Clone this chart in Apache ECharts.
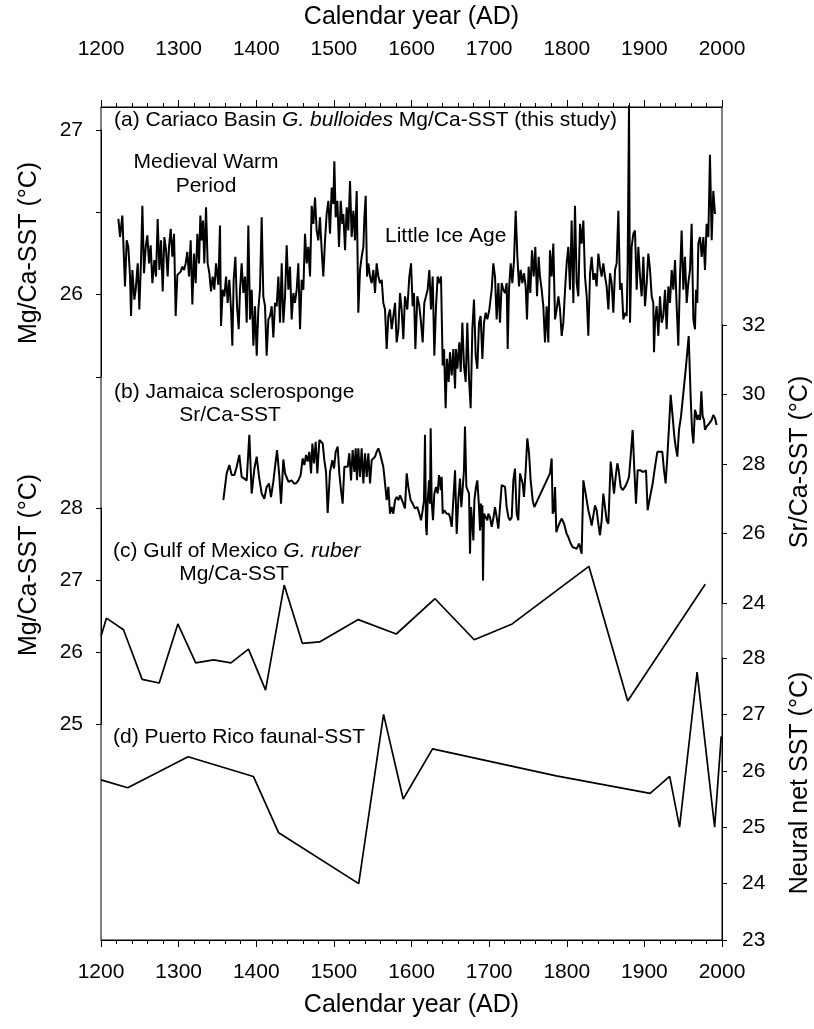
<!DOCTYPE html>
<html><head><meta charset="utf-8">
<script src="https://cdn.jsdelivr.net/npm/echarts@6/dist/echarts.min.js"></script>
<style>html,body{margin:0;padding:0;background:#fff}#c{width:814px;height:1029px}</style>
</head><body><div id="c"></div>
<script>
// (a) Cariaco Basin G. bulloides Mg/Ca-SST
const aYears=[1222.4,1224.5,1227.5,1230.9,1233.1,1235.2,1237.4,1238.7,1240.4,1243.0,1244.7,1247.3,1249.4,1251.6,1253.3,1255.4,1257.6,1259.7,1261.9,1264.0,1266.2,1268.7,1270.9,1273.0,1275.2,1277.3,1279.5,1281.6,1283.8,1285.9,1287.6,1289.8,1291.9,1294.1,1296.2,1298.4,1300.5,1302.7,1304.8,1307.0,1309.1,1311.2,1313.4,1315.5,1317.7,1319.8,1322.0,1324.1,1326.3,1328.0,1329.7,1331.4,1333.1,1335.3,1337.4,1339.6,1341.7,1343.9,1346.0,1348.2,1351.2,1353.3,1354.6,1356.8,1358.9,1361.1,1363.2,1365.3,1367.5,1369.2,1370.9,1373.1,1375.2,1377.4,1379.1,1381.2,1383.4,1385.5,1387.7,1389.8,1392.0,1394.1,1396.3,1398.4,1400.6,1402.7,1404.8,1407.0,1409.1,1411.3,1413.4,1415.6,1417.7,1419.9,1422.0,1424.2,1426.3,1428.5,1430.6,1432.8,1434.9,1437.1,1439.2,1441.4,1443.5,1445.6,1447.8,1449.9,1452.1,1454.2,1456.4,1458.5,1460.7,1462.8,1465.0,1467.1,1469.3,1471.4,1473.6,1475.7,1477.8,1480.0,1482.1,1484.3,1486.4,1488.6,1490.7,1492.9,1495.0,1497.2,1499.3,1500.6,1502.3,1504.5,1506.6,1508.8,1510.9,1512.2,1514.4,1516.5,1518.6,1520.8,1522.9,1525.1,1527.2,1529.4,1531.5,1533.7,1535.8,1538.0,1539.3,1541.0,1542.7,1544.4,1546.6,1548.7,1550.9,1553.0,1555.1,1557.3,1559.4,1561.6,1563.7,1565.9,1568.0,1570.2,1572.3,1574.5,1576.6,1578.8,1580.9,1583.1,
1585.2,1587.3,1589.5,1591.6,1594.6,1597.2,1599.4,1601.5,1603.2,1605.0,1607.5,1610.1,1612.3,1614.4,1616.5,1618.7,1620.8,1623.0,1625.1,1627.3,1629.4,1631.6,1633.7,1635.9,1638.0,1640.2,1641.9,1644.0,1645.7,1647.9,1649.6,1651.8,1653.9,1656.1,1657.3,1659.1,1661.6,1663.4,1665.5,1667.6,1669.8,1671.9,1674.1,1676.2,1678.4,1680.5,1682.7,1684.8,1687.0,1689.1,1691.3,1693.4,1695.6,1697.7,1700.3,1703.3,1705.4,1707.6,1709.7,1711.9,1714.0,1716.2,1718.3,1720.5,1722.6,1723.9,1725.6,1727.8,1729.9,1732.1,1734.2,1736.4,1738.5,1740.6,1742.8,1744.9,1747.1,1748.8,1750.9,1753.1,1755.2,1757.4,1759.5,1761.7,1763.8,1765.5,1767.7,1769.8,1772.0,1774.1,1776.3,1778.4,1780.6,1782.7,1784.9,1787.0,1789.2,1791.3,1793.5,1795.6,1797.8,1799.9,1802.0,1804.2,1806.3,1808.5,1810.6,1812.8,1814.9,1817.1,1819.2,1821.4,1823.5,1825.7,1827.8,1830.0,1832.1,1834.3,1836.4,1838.5,1840.7,1842.8,1845.0,1847.1,1849.3,1851.4,1853.6,1855.7,1857.9,1860.0,1862.2,1864.3,1866.5,1868.6,1870.7,1872.9,1875.0,1877.2,1878.5,1880.2,1881.5,1883.6,1885.8,1887.9,1890.1,1892.2,1894.4,1896.5,1898.7,1900.8,1903.0,1905.1,1907.3,1909.4,1911.5,1912.4,1913.7,1915.8,1918.0,1920.1,1922.3,1924.4,1926.6,1928.7,1930.9,1933.0,1935.2,1937.3,1939.5,1941.6,1943.7,1945.9,1948.0,1950.2,1952.3,1954.5,1956.6,1958.8,1960.9,1963.1,1965.2,1966.5,1968.2,1969.5,1971.7,1973.8,1976.0,1978.1,1980.2,1982.4,1984.5,1986.7,1988.8,1991.0];
const aValues=[26.46,26.35,26.48,26.05,26.33,26.29,26.11,25.87,26.15,25.97,26.03,26.19,25.91,26.21,26.54,26.13,26.29,26.36,26.19,26.30,26.07,26.21,26.11,26.46,26.15,26.33,26.02,26.35,26.27,26.11,26.29,26.40,26.23,26.37,25.87,26.12,26.13,26.14,26.17,26.15,26.19,26.26,26.11,26.33,25.94,26.25,26.07,26.37,26.19,26.48,26.33,26.45,26.19,26.53,26.19,26.13,26.02,26.11,26.03,26.19,26.06,26.42,25.81,26.03,25.99,26.11,25.95,26.09,25.91,25.69,26.09,26.23,25.93,25.79,26.03,26.19,26.01,26.11,25.83,26.42,25.85,26.03,25.69,25.93,25.63,25.91,26.03,26.47,25.99,25.93,25.63,25.85,25.87,25.93,25.74,25.95,25.93,26.11,25.83,26.19,25.83,25.99,26.30,26.03,26.17,25.85,26.01,25.95,26.03,26.19,25.79,26.09,26.03,26.37,26.19,26.29,26.11,26.54,26.43,26.59,26.39,26.33,26.47,26.27,26.11,26.33,26.49,26.57,26.37,26.65,26.55,26.81,26.47,26.57,26.29,26.57,26.43,26.49,26.27,26.53,26.39,26.69,26.35,26.51,26.33,26.63,25.89,26.15,26.23,26.29,26.47,26.60,26.11,26.19,26.11,26.07,26.15,26.01,26.19,26.11,26.07,26.09,25.95,25.91,25.67,25.87,25.91,25.79,25.87,25.95,25.71,25.79,
26.01,25.91,25.73,25.99,25.91,26.11,26.19,25.93,26.01,25.67,25.99,25.93,25.83,25.71,25.95,25.99,26.03,26.15,25.91,26.11,25.63,25.93,26.11,26.07,26.11,25.57,25.67,25.31,25.61,25.47,25.65,25.51,25.67,25.43,25.67,25.55,25.71,25.53,25.83,25.57,25.47,25.83,25.49,25.31,25.79,25.97,25.63,25.55,25.83,25.87,25.61,25.83,25.89,25.85,25.91,26.03,26.19,26.11,25.85,26.07,25.83,26.07,26.03,26.01,26.07,25.67,26.03,26.19,26.07,26.21,26.51,26.23,26.05,26.15,26.07,26.13,26.05,25.85,26.17,26.01,26.27,26.11,26.29,25.99,26.23,26.11,26.03,25.93,25.71,25.93,25.71,26.27,26.11,26.31,25.85,25.91,25.99,25.91,25.75,25.83,26.03,26.19,26.29,26.03,26.45,25.95,26.54,26.07,25.99,26.43,26.31,26.45,26.11,25.99,25.75,26.13,26.23,26.09,26.13,26.05,26.25,26.17,26.11,26.19,26.11,26.05,25.91,26.13,26.07,25.89,26.15,26.19,26.51,26.03,26.07,25.85,25.89,25.87,26.19,27.15,25.83,26.29,26.37,26.39,26.03,26.29,26.11,25.99,26.23,25.93,26.07,26.25,26.15,25.99,25.95,25.65,25.83,25.93,25.75,25.99,25.83,25.87,26.03,25.79,26.05,25.95,26.15,26.03,26.21,25.93,25.69,26.11,26.39,26.03,26.23,25.95,26.07,26.15,26.43,25.85,25.79,26.03,25.95,26.31,26.35,26.23,26.35,26.15,26.43,26.35,26.85,26.33,26.63,26.49];

// (b) Jamaica sclerosponge Sr/Ca-SST
const bYears=[1357.6,1361.9,1365.3,1368.4,1371.8,1374.8,1378.2,1381.2,1384.7,1387.7,1391.1,1394.1,1397.6,1400.6,1403.6,1407.0,1410.4,1413.4,1416.4,1419.0,1422.0,1424.2,1426.8,1429.8,1431.9,1434.9,1437.1,1439.2,1441.4,1443.5,1445.6,1448.6,1451.2,1454.2,1457.2,1459.8,1462.0,1464.1,1466.3,1468.4,1470.6,1472.3,1474.4,1476.6,1478.7,1481.3,1483.4,1485.6,1487.7,1489.9,1492.0,1495.0,1498.0,1500.2,1502.3,1504.9,1507.0,1509.2,1511.3,1513.5,1515.6,1517.8,1519.9,1522.1,1524.2,1526.4,1528.1,1529.8,1531.5,1533.7,1535.8,1538.0,1540.1,1542.3,1544.4,1546.6,1548.7,1550.9,1553.0,1555.1,1557.3,1559.4,1561.6,1563.7,1565.9,1568.0,1570.2,1572.3,1574.5,1576.6,1578.8,1580.9,1583.1,
1585.2,1588.6,1591.6,1593.8,1595.9,1598.9,1601.5,1604.5,1607.5,1610.1,1612.3,1614.4,1616.1,1617.4,1618.7,1619.6,1620.8,1622.6,1623.8,1624.7,1626.0,1627.7,1629.4,1631.6,1633.7,1635.4,1636.7,1637.6,1638.9,1640.2,1642.3,1645.3,1647.9,1649.6,1651.8,1653.9,1656.1,1658.2,1660.3,1662.5,1664.2,1665.5,1667.6,1668.9,1670.7,1672.4,1674.1,1675.4,1676.7,1678.0,1679.7,1681.0,1683.1,1684.8,1687.0,1688.3,1689.5,1690.4,1691.3,1692.1,1693.4,1695.6,1697.7,1699.0,1701.1,1703.3,1705.4,1707.6,1709.7,1711.9,1714.0,1716.2,1718.3,1720.5,1722.6,1724.8,1726.9,1729.1,1731.2,1733.3,1735.5,1737.6,1739.8,1741.9,1743.2,1744.9,1747.1,1749.2,1751.4,1753.5,1756.1,1758.2,1778.4,1780.6,1781.9,1783.6,1784.9,1786.6,1788.7,1791.3,1793.5,1796.5,1799.9,1802.0,1805.1,1807.6,1809.8,1812.8,1815.8,1817.1,1819.2,1821.4,1823.5,1825.7,1827.8,1830.0,1832.1,1834.3,1836.4,1838.5,1840.7,1842.8,1845.0,1847.1,1849.3,1851.4,1853.6,1856.6,1858.7,1860.9,1863.0,1865.2,1866.9,1869.5,1872.0,1875.0,1877.2,1880.2,1882.3,1884.9,1887.1,1889.2,1891.4,1894.4,1898.7,1902.1,1904.2,1907.3,1910.7,1913.7,1916.7,1920.1,1923.1,1925.3,1927.4,1929.6,1932.2,1933.9,1936.4,1938.6,1940.3,1942.5,1944.6,1947.2,1950.2,1953.6,1957.1,1959.6,1961.4,1963.1,1965.2,1966.5,1968.2,1969.9,1971.7,1973.4,1975.1,1976.8,1978.1,1980.2,1983.7,1986.7,1988.8,1991.0,1993.1];
const bValues=[26.96,27.73,27.97,27.68,27.68,27.92,28.26,27.63,27.58,27.53,28.84,27.15,27.87,28.21,27.63,27.15,27.00,27.34,27.44,27.05,27.49,27.92,28.40,27.63,26.86,28.13,27.73,27.68,27.49,27.53,27.53,27.44,27.44,27.53,27.68,28.16,27.97,28.26,28.07,28.35,27.73,28.59,28.02,28.64,27.73,28.69,28.69,28.59,28.11,27.77,26.59,27.77,28.11,27.87,28.35,28.50,27.73,27.25,26.86,27.92,27.97,27.92,28.31,27.53,28.40,27.77,28.45,27.53,28.45,27.63,28.45,27.44,28.31,27.63,28.31,27.44,28.11,28.16,28.21,28.35,28.45,28.31,28.11,27.92,27.44,26.96,27.34,26.57,26.76,26.57,26.96,27.05,26.96,
27.10,26.91,26.72,27.73,27.34,26.96,26.86,26.72,26.76,26.57,26.38,26.67,26.96,28.84,26.19,25.95,26.91,27.53,26.86,29.03,26.91,26.38,27.15,27.34,27.15,27.68,27.53,27.25,27.63,26.57,26.67,26.57,26.57,26.47,26.19,26.96,27.82,25.99,26.96,27.58,26.76,26.72,27.82,29.08,27.34,27.34,27.15,25.42,26.76,26.38,25.80,26.96,27.34,27.53,26.76,26.09,26.86,26.19,26.81,24.65,26.57,26.47,26.38,26.57,26.47,26.19,26.43,26.76,26.47,26.14,26.76,27.39,27.39,27.34,26.76,26.47,26.38,26.47,27.53,27.87,26.57,26.38,27.73,27.77,27.44,27.05,27.82,28.74,28.31,27.53,26.96,26.76,27.73,28.16,26.57,26.67,27.34,26.04,26.19,26.33,26.43,26.28,25.99,25.90,25.71,25.61,25.66,25.56,25.71,25.61,25.42,27.53,27.25,26.96,26.67,26.47,26.23,26.52,26.81,26.67,26.28,25.95,26.38,27.15,26.76,26.38,26.28,28.07,27.63,27.15,27.63,28.02,27.82,27.34,27.25,27.34,27.44,27.63,28.21,28.98,27.82,26.86,27.82,27.82,27.77,27.82,26.67,27.05,27.44,27.92,28.35,28.35,28.35,27.82,27.44,28.21,29.27,29.99,29.37,28.79,28.50,28.21,28.98,29.37,30.04,30.81,31.68,29.94,28.98,28.59,29.56,29.46,29.27,29.41,29.27,30.09,29.37,29.27,28.98,29.08,29.17,29.27,29.41,29.32,29.12];

// (c) Gulf of Mexico G. ruber Mg/Ca-SST
const cYears=[1200,1207,1229,1253,1275,1299,1322,1345,1367.4,1390,1412,1436,1459.4,1481.5,1531.4,1580.4,1630.3,1680.8,1729.7,1828.5,1878.5,1978.4];
const cValues=[26.22,26.47,26.31,25.62,25.57,26.39,25.85,25.89,25.85,26.04,25.47,26.93,26.12,26.14,26.45,26.25,26.74,26.17,26.39,27.19,25.32,26.94];

// (d) Puerto Rico faunal-SST (neural net)
const dYears=[1200,1234.4,1312.2,1396.3,1428.9,1532,1564,1589.3,1627.1,1786.5,1907.4,1932.6,1945.3,1967.9,1990.5,1999];
const dValues=[25.84,25.70,26.25,25.90,24.90,24.00,27.00,25.50,26.39,25.91,25.60,25.90,25.00,27.75,25.00,26.61];

const FONT='"Liberation Sans", Arial, Helvetica, sans-serif';
const L=101, W=621;
const zip=(x,y)=>x.map((v,i)=>[v,y[i]]);
const hiddenX=gi=>({type:'value',gridIndex:gi,min:1200,max:2000,show:false});
const xVis=(pos,gap,margin)=>({type:'value',gridIndex:0,position:pos,min:1200,max:2000,interval:100,
  name:'Calendar year (AD)',nameLocation:'middle',nameGap:gap,
  nameTextStyle:{color:'#000',fontSize:25,fontFamily:FONT},
  axisLine:{show:true,lineStyle:{color:'#000',width:1}},
  axisTick:{show:true,length:7,lineStyle:{color:'#000',width:1}},
  minorTick:{show:true,splitNumber:5,length:4,lineStyle:{color:'#000',width:1}},
  splitLine:{show:false},
  axisLabel:{color:'#000',fontSize:21,fontFamily:FONT,margin:margin,formatter:v=>String(v)}});
const yAx=(gi,pos,min,max,interval,fmt)=>({type:'value',gridIndex:gi,position:pos,min:min,max:max,interval:interval,
  axisLine:{show:true,lineStyle:{color:'#000',width:1}},
  axisTick:{show:true,length:5,lineStyle:{color:'#000',width:1}},
  splitLine:{show:false},
  axisLabel:{color:'#000',fontSize:21,fontFamily:FONT,margin:pos==='left'?18:20,formatter:fmt||(v=>String(v))}});
const ser=(i,x,y,w)=>({type:'line',xAxisIndex:2+i,yAxisIndex:1+i,data:zip(x,y),showSymbol:false,symbol:'none',clip:false,
  lineStyle:{color:'#000',width:w},silent:true,animation:false});
const txt=(x,y,text,extra)=>Object.assign({type:'text',x:x,y:y,style:Object.assign({text:text,fill:'#000',fontSize:21,fontFamily:FONT,
  align:'left',verticalAlign:'middle',textAlign:'left',textVerticalAlign:'middle'},extra||{})});
const rich={n:{fontSize:21,fontFamily:FONT,fill:'#000',color:'#000'},i:{fontSize:21,fontFamily:FONT,fontStyle:'italic',fill:'#000',color:'#000'}};
const vtitle=(x,y,text)=>({type:'text',x:x,y:y,rotation:Math.PI/2,style:{text:text,fill:'#000',fontSize:25,fontFamily:FONT,
  align:'center',verticalAlign:'middle',textAlign:'center',textVerticalAlign:'middle'}});

const option={
  animation:false,
  backgroundColor:'#fff',
  grid:[
    {left:L,top:92,width:W,height:848,show:true,borderColor:'#000',borderWidth:1,backgroundColor:'transparent'},
    {left:L,top:130,width:W,height:247},
    {left:L,top:325,width:W,height:278},
    {left:L,top:508,width:W,height:216},
    {left:L,top:658,width:W,height:282}
  ],
  xAxis:[xVis('bottom',53,22),xVis('top',77,47),hiddenX(1),hiddenX(2),hiddenX(3),hiddenX(4)],
  yAxis:[
    {type:'value',gridIndex:0,min:0,max:1,show:false},
    yAx(1,'left',25.5,27,0.5,v=>Number.isInteger(v)?String(v):''),
    yAx(2,'right',24,32,2),
    yAx(3,'left',25,28,1),
    yAx(4,'right',23,28,1)
  ],
  series:[ser(0,aYears,aValues,2),ser(1,bYears,bValues,2),ser(2,cYears,cValues,1.7),ser(3,dYears,dValues,1.7)],
  graphic:[
    txt(114,120,'{n|(a) Cariaco Basin }{i|G. bulloides}{n| Mg/Ca-SST (this study)}',{rich:rich}),
    txt(206,162,'Medieval Warm',{align:'center',textAlign:'center'}),
    txt(206,186,'Period',{align:'center',textAlign:'center'}),
    txt(385,236,'Little Ice Age'),
    txt(114,392,'(b) Jamaica sclerosponge'),
    txt(230,415,'Sr/Ca-SST',{align:'center',textAlign:'center'}),
    txt(113,551,'{n|(c) Gulf of Mexico }{i|G. ruber}',{rich:rich}),
    txt(234,574,'Mg/Ca-SST',{align:'center',textAlign:'center'}),
    txt(113,737,'(d) Puerto Rico faunal-SST'),
    vtitle(29,253,'Mg/Ca-SST (°C)'),
    vtitle(29,565,'Mg/Ca-SST (°C)'),
    vtitle(800,462,'Sr/Ca-SST (°C)'),
    vtitle(800,783,'Neural net SST (°C)')
  ]
};
const chart=echarts.init(document.getElementById('c'),null,{renderer:'canvas'});
chart.setOption(option);
</script></body></html>
